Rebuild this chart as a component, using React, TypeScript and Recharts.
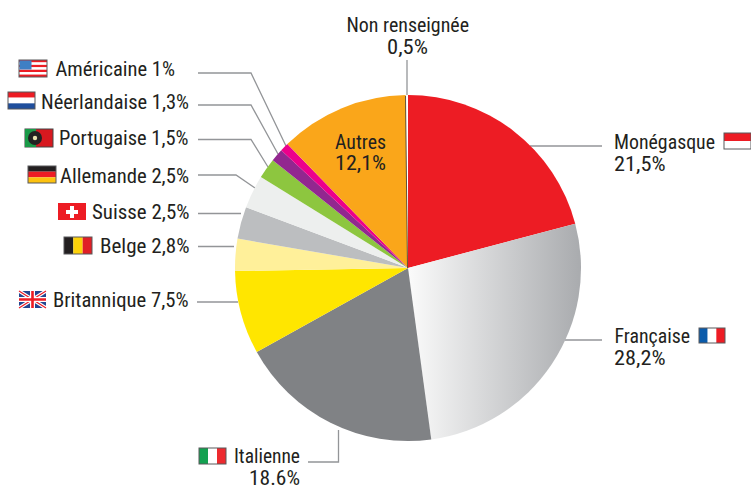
import React from 'react';
import { PieChart, Pie, Cell } from 'recharts';

const NATIONALITIES = ['Monégasque', 'Française', 'Italienne', 'Britannique', 'Belge', 'Suisse', 'Allemande', 'Portugaise', 'Néerlandaise', 'Américaine', 'Autres', 'Non renseignée'];
// printed percentages
const PRINTED = ['21,5%', '28,2%', '18.6%', '7,5%', '2,8%', '2,5%', '2,5%', '1,5%', '1,3%', '1%', '12,1%', '0,5%'];
// slice sizes as drawn in the picture (they are not quite the printed ones)
const DRAWN = [20.9, 27.0, 19.1, 7.8, 3.0, 3.0, 3.1, 1.9, 1.2, 0.8, 12.1, 0.2];
const COLORS = ['#ed1c24', 'url(#francaise)', '#808285', '#ffe600', '#fff09a', '#bcbec0', '#edefee', '#8dc63f', '#92278f', '#ec008c', '#faa61a', '#ffffff'];

const data = NATIONALITIES.map((name, i) => ({ name, value: DRAWN[i] }));

const FONT = '"Roboto Condensed", "Liberation Sans Narrow", Roboto, sans-serif';
const INK = '#231f20';
const LINE = '#939598';

const leaders = [
  '198,73 251,73 286,146',
  '198,105 251,105 278,154',
  '198,139.5 251,139.5 268,167',
  '198,175 236,175 255,188',
  '198,213.5 241,213.5',
  '198,246.5 234,246.5',
  '197,302 238,302',
  '530,146 602,146',
  '565,340 602,340',
  '308,462 338.5,462 338.5,430',
  '407,60 407,96',
];

const T: React.FC<{ x: number; y: number; w: number; anchor?: 'start' | 'middle' | 'end'; children: React.ReactNode }> = ({ x, y, w, anchor = 'start', children }) => (
  <text x={x} y={y} textAnchor={anchor} textLength={w} lengthAdjust="spacingAndGlyphs" fontFamily={FONT} fontSize={21} fill={INK}>{children}</text>
);

const Stripes: React.FC<{ x: number; y: number; w: number; h: number; colors: string[]; vertical?: boolean }> = ({ x, y, w, h, colors, vertical }) => (
  <g>
    {colors.map((c, i) => vertical
      ? <rect key={i} x={x + (w / colors.length) * i} y={y} width={w / colors.length} height={h} fill={c} />
      : <rect key={i} x={x} y={y + (h / colors.length) * i} width={w} height={h / colors.length} fill={c} />)}
    <rect x={x} y={y} width={w} height={h} fill="none" stroke="#58595b" strokeWidth={1} />
  </g>
);

const Flags = () => (
  <g>
    {/* US */}
    <Stripes x={19} y={60} w={28} h={17} colors={['#ed1c24', '#fff', '#ed1c24', '#fff', '#ed1c24', '#fff', '#ed1c24']} />
    <rect x={19.5} y={60.5} width={12} height={9} fill="#3f7fc4" />
    <Stripes x={8} y={92} w={27} h={17} colors={['#ed1c24', '#fff', '#1f4e9c']} />
    {/* PT */}
    <rect x={25} y={129} width={28} height={18} fill="#d7181f" stroke="#444" strokeWidth={1} />
    <rect x={25} y={129} width={11} height={18} fill="#1a9a48" />
    <circle cx={35} cy={138} r={7} fill="#222" />
    <circle cx={35} cy={138} r={2.2} fill="#e8e3b0" />
    <Stripes x={28} y={166} w={28} h={17} colors={['#231f20', '#ed1c24', '#fdc20f']} />
    {/* CH */}
    <rect x={58} y={203} width={28} height={17} fill="#ed1c24" />
    <rect x={66} y={210} width={12} height={4} fill="#fff" />
    <rect x={70} y={206} width={4} height={12} fill="#fff" />
    <Stripes x={64} y={237} w={28} h={17} colors={['#231f20', '#fdd20a', '#e01f26']} vertical />
    {/* UK */}
    <rect x={19} y={291} width={27} height={17} fill="#24458f" />
    <path d="M19 291 L46 308 M46 291 L19 308" stroke="#fff" strokeWidth={3.5} />
    <path d="M19 291 L46 308 M46 291 L19 308" stroke="#ed1c24" strokeWidth={1.2} />
    <path d="M32.5 291 V308 M19 299.5 H46" stroke="#fff" strokeWidth={5} />
    <path d="M32.5 291 V308 M19 299.5 H46" stroke="#ed1c24" strokeWidth={2.6} />
    <Stripes x={724} y={133} w={27} h={16} colors={['#ed1c24', '#fff']} />
    <Stripes x={699} y={328} w={26} h={15} colors={['#0a5bab', '#fff', '#ed1c24']} vertical />
    <Stripes x={199} y={448} w={27} h={16} colors={['#12a150', '#fff', '#ed2a2f']} vertical />
  </g>
);

const lab = (i: number) => `${NATIONALITIES[i]} ${PRINTED[i]}`;

// only "Autres" is labelled inside the pie, the rest sits outside with leader lines
const renderInside = ({ index }: { index: number }) => {
  if (index === 10) {
    return (
      <g>
        <T x={335} y={148.5} w={51}>{NATIONALITIES[10]}</T>
        <T x={335} y={170} w={51}>{PRINTED[10]}</T>
      </g>
    );
  }
  if (index === 11) {
    return <line x1={405.5} y1={96} x2={407.5} y2={268} stroke="#3a3a3a" strokeWidth={0.8} />;
  }
  return <g />;
};

const App: React.FC = () => (
  <div style={{ position: 'absolute', left: 0, top: 0, width: 751, height: 486, background: '#fff', overflow: 'hidden' }}>
    <PieChart width={751} height={486} margin={{ top: 0, right: 0, bottom: 0, left: 0 }}>
      <defs>
        <linearGradient id="francaise" x1="0" y1="0" x2="1" y2="0">
          <stop offset="0%" stopColor="#fbfbfb" />
          <stop offset="100%" stopColor="#a9abae" />
        </linearGradient>
      </defs>
      <Pie
        data={data}
        dataKey="value"
        nameKey="name"
        cx={408}
        cy={268}
        innerRadius={0}
        outerRadius={173}
        startAngle={90}
        endAngle={-270}
        stroke="none"
        label={renderInside}
        labelLine={false}
        isAnimationActive={false}
      >
        {data.map((entry, index) => (
          <Cell key={`cell-${index}`} fill={COLORS[index]} />
        ))}
      </Pie>
      {leaders.map((points) => (
        <polyline key={points} points={points} fill="none" stroke={LINE} strokeWidth={1.3} />
      ))}
      <Flags />
      <T x={55.5} y={76} w={119.5}>{lab(9)}</T>
      <T x={41} y={109} w={148}>{lab(8)}</T>
      <T x={59} y={145} w={129.5}>{lab(7)}</T>
      <T x={60} y={183} w={129}>{lab(6)}</T>
      <T x={92} y={219} w={97.5}>{lab(5)}</T>
      <T x={100} y={253} w={89.5}>{lab(4)}</T>
      <T x={53} y={307} w={135.5}>{lab(3)}</T>
      <T x={614} y={149} w={101}>{NATIONALITIES[0]}</T>
      <T x={614} y={170.5} w={51.5}>{PRINTED[0]}</T>
      <T x={614.5} y={342.5} w={75.5}>{NATIONALITIES[1]}</T>
      <T x={614} y={365} w={51.5}>{PRINTED[1]}</T>
      <T x={234} y={463} w={66}>{NATIONALITIES[2]}</T>
      <T x={249} y={485} w={51}>{PRINTED[2]}</T>
      <T x={346.5} y={32} w={122.5}>{NATIONALITIES[11]}</T>
      <T x={387} y={54} w={41}>{PRINTED[11]}</T>
    </PieChart>
  </div>
);

export default App;
